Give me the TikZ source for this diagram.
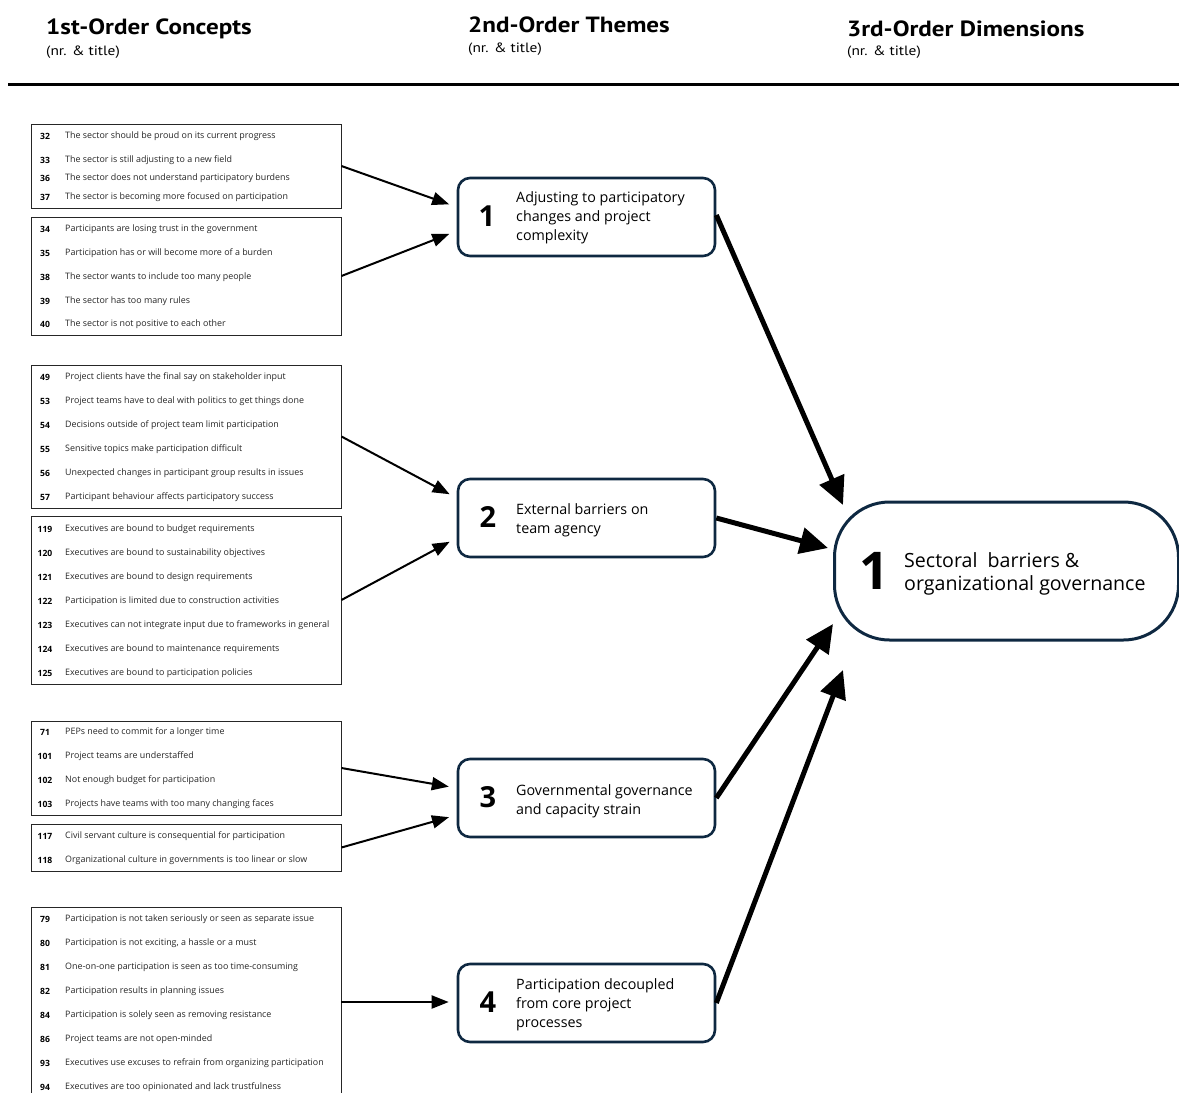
\documentclass[tikz,border=0pt]{standalone}
\usepackage{fontspec}
\setmainfont{Open Sans}
\newfontfamily\hdrfont[FakeStretch=1.14]{PT Sans}
\usetikzlibrary{arrows.meta}
\definecolor{navy}{RGB}{14,40,65}

% one concept line: y position, number, text
\newcommand\concitem[3]{%
  \node[cnum] (n#2) at (45,#1) {#2};
  \node[ctxt] (c#2) at (65,#1) {#3};}

\begin{document}
\begin{tikzpicture}[x=1pt,y=-1pt,
  hdr/.style={anchor=west, inner sep=0, font=\hdrfont\bfseries\fontsize{22}{24}\selectfont},
  sub/.style={anchor=west, inner sep=0, font=\hdrfont\fontsize{13.5}{15}\selectfont},
  conbox/.style={draw=black!85, line width=0.9pt, minimum width=310pt, inner sep=0},
  cnum/.style={inner sep=0, font=\bfseries\fontsize{8.6}{9}\selectfont},
  ctxt/.style={anchor=west, inner sep=0, text=black!85, font=\fontsize{8.9}{9}\selectfont},
  theme/.style={draw=navy, line width=2.6pt, rounded corners=12pt,
    minimum width=257pt, minimum height=78pt, inner sep=0},
  tnum/.style={inner sep=0, font=\bfseries\fontsize{29}{30}\selectfont},
  ttxt/.style={anchor=west, inner sep=0, align=left,
    font=\fontsize{14.3}{19}\selectfont},
  dimbox/.style={draw=navy, line width=3pt, rounded corners=55pt,
    minimum width=344pt, minimum height=138pt, inner sep=0},
  dtxt/.style={anchor=west, inner sep=0, font=\fontsize{19.6}{22}\selectfont},
  feed/.style={line width=2pt, -{Triangle[length=17pt,width=13pt]}},
  merge/.style={line width=5pt, -{Triangle[length=28pt,width=26pt]}}
]
\useasboundingbox (0,0) rectangle (1179,1093);
\clip (0,0) rectangle (1179,1093);

% column headers
\node[hdr] (h1) at (46,29) {1st-Order Concepts};
\node[sub] (s1) at (46,52) {(nr. \& title)};
\node[hdr] (h2) at (468,25) {2nd-Order Themes};
\node[sub] (s2) at (468,49) {(nr. \& title)};
\node[hdr] (h3) at (847,29) {3rd-Order Dimensions};
\node[sub] (s3) at (847,52) {(nr. \& title)};
\draw[line width=3pt] (8,84) -- (1179,84);

% first-order concept groups
\node[conbox, minimum height=84pt] (bA) at (186,166) {};
\concitem{136}{32}{The sector should be proud on its current progress}
\concitem{160}{33}{The sector is still adjusting to a new field}
\concitem{178}{36}{The sector does not understand participatory burdens}
\concitem{197}{37}{The sector is becoming more focused on participation}

\node[conbox, minimum height=118pt] (bB) at (186,276) {};
\concitem{229}{34}{Participants are losing trust in the government}
\concitem{253}{35}{Participation has or will become more of a burden}
\concitem{277}{38}{The sector wants to include too many people}
\concitem{301}{39}{The sector has too many rules}
\concitem{324}{40}{The sector is not positive to each other}

\node[conbox, minimum height=143pt] (bC) at (186,436.5) {};
\concitem{377}{49}{Project clients have the final say on stakeholder input}
\concitem{401}{53}{Project teams have to deal with politics to get things done}
\concitem{425}{54}{Decisions outside of project team limit participation}
\concitem{449}{55}{Sensitive topics make participation difficult}
\concitem{473}{56}{Unexpected changes in participant group results in issues}
\concitem{497}{57}{Participant behaviour affects participatory success}

\node[conbox, minimum height=168pt] (bD) at (186,600) {};
\concitem{529}{119}{Executives are bound to budget requirements}
\concitem{553}{120}{Executives are bound to sustainability objectives}
\concitem{577}{121}{Executives are bound to design requirements}
\concitem{601}{122}{Participation is limited due to construction activities}
\concitem{625}{123}{Executives can not integrate input due to frameworks in general}
\concitem{649}{124}{Executives are bound to maintenance requirements}
\concitem{673}{125}{Executives are bound to participation policies}

\node[conbox, minimum height=94pt] (bE) at (186,768) {};
\concitem{732}{71}{PEPs need to commit for a longer time}
\concitem{756}{101}{Project teams are understaffed}
\concitem{780}{102}{Not enough budget for participation}
\concitem{804}{103}{Projects have teams with too many changing faces}

\node[conbox, minimum height=47pt] (bF) at (186,847.5) {};
\concitem{836}{117}{Civil servant culture is consequential for participation}
\concitem{860}{118}{Organizational culture in governments is too linear or slow}

\node[conbox, minimum height=190pt] (bG) at (186,1002) {};
\concitem{919}{79}{Participation is not taken seriously or seen as separate issue}
\concitem{943}{80}{Participation is not exciting, a hassle or a must}
\concitem{967}{81}{One-on-one participation is seen as too time-consuming}
\concitem{991}{82}{Participation results in planning issues}
\concitem{1015}{84}{Participation is solely seen as removing resistance}
\concitem{1039}{86}{Project teams are not open-minded}
\concitem{1063}{93}{Executives use excuses to refrain from organizing participation}
\concitem{1087}{94}{Executives are too opinionated and lack trustfulness}

% second-order themes
\node[theme] (t1) at (586.5,217) {};
\node[tnum] (tn1) at (487,216) {1};
\node[ttxt] (tt1) at (516,218) {Adjusting to participatory\\changes and project\\complexity};

\node[theme] (t2) at (586.5,518) {};
\node[tnum] (tn2) at (488,517) {2};
\node[ttxt] (tt2) at (516,520) {External barriers on\\team agency};

\node[theme] (t3) at (586.5,798) {};
\node[tnum] (tn3) at (488,797) {3};
\node[ttxt] (tt3) at (516,801) {Governmental governance\\and capacity strain};

\node[theme] (t4) at (586.5,1003) {};
\node[tnum] (tn4) at (488,1002) {4};
\node[ttxt] (tt4) at (516,1005) {Participation decoupled\\from core project\\processes};

% third-order dimension
\node[dimbox] (d1) at (1006.5,571) {};
\node[inner sep=0, font=\bfseries\fontsize{52}{52}\selectfont] (dn1) at (874,571) {1};
\node[dtxt] (dt1a) at (904,560) {Sectoral\ \ barriers \&};
\node[dtxt] (dt1b) at (904,585) {organizational governance};

% concept groups feeding the themes
\draw[feed, shorten >=8pt] (bA.east) -- ([yshift=10pt]t1.west);
\draw[feed, shorten >=8pt] (bB.east) -- ([yshift=-14pt]t1.west);
\draw[feed, shorten >=8pt] (bC.east) -- ([yshift=20pt]t2.west);
\draw[feed, shorten >=8pt] (bD.east) -- ([yshift=-20pt]t2.west);
\draw[feed, shorten >=8pt] (bE.east) -- ([yshift=10pt]t3.west);
\draw[feed, shorten >=8pt] (bF.east) -- ([yshift=-17pt]t3.west);
\draw[feed, shorten >=8pt] (bG.east) -- ([yshift=1pt]t4.west);

% themes merging into the dimension
\draw[merge] ([yshift=2pt]t1.east) -- ([xshift=10pt,yshift=66pt]d1.west);
\draw[merge] (t2.east) -- ([xshift=-5pt,yshift=23pt]d1.west);
\draw[merge] (t3.east) -- ([xshift=0pt,yshift=-53pt]d1.west);
\draw[merge] (t4.east) -- ([xshift=10pt,yshift=-99pt]d1.west);
\end{tikzpicture}
\end{document}
